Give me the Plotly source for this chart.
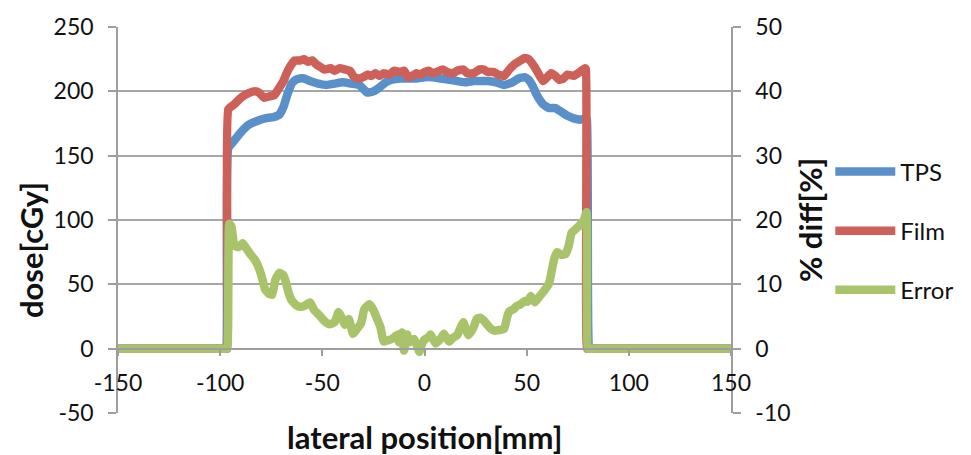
import plotly.graph_objects as go

# ---- data ----
tps_x = [-150, -97.5, -97, -96, -93, -90, -86, -82, -78, -74, -71, -69, -67, -65, -63, -61, -59, -56, -52, -48, -44,
         -40, -36, -32, -30, -28, -25, -22, -19, -16, -12, -8, -4, 0, 4, 8, 12, 16, 20, 24, 27, 31, 35, 39,
         43, 46, 49, 51, 53, 55, 58, 61, 64, 67, 70, 73, 76, 79, 79.5, 80.5, 81, 150]
tps_y = [0, 0, 0, 156, 162, 168, 174, 177, 179, 180, 182, 188, 198, 206, 209, 210, 210, 208, 206, 205, 206,
         207, 206, 205, 202, 199, 200, 203, 207, 209, 210, 210, 210, 211, 211, 210, 209, 208, 207, 208, 208,
         208, 207, 205, 207, 210, 211, 209, 204, 197, 190, 187, 187, 184, 181, 179, 178, 179, 178, 0, 0, 0]

film_x = [-150, -97, -96.5, -96, -93, -90.5, -88, -85.5, -83, -81, -78.5, -76, -73.5, -71, -69, -67.5, -65.5,
          -63.5, -61, -59, -57, -55, -53, -51, -49, -46, -44, -41.5, -39, -36.5, -34.5, -32, -30, -28, -26,
          -24, -22, -20, -17, -15, -12, -10, -8, -6, -4, -2, 0, 2, 4, 6, 9, 11, 14, 16, 19, 21, 24, 27, 29,
          31, 34, 36, 39, 41, 44, 47, 49, 51, 53, 55, 58, 60, 62, 64, 66, 68, 70, 73, 76, 78.5, 79, 79.5, 80,
          150]
film_y = [0, 0, 0, 186, 190, 194, 197, 199, 200, 199, 195, 196, 197, 203, 208, 214, 220,
          224, 224, 225, 223, 224, 221, 219, 217, 218, 216, 218, 217, 216, 211, 210, 211, 213, 212,
          214, 212, 214, 213, 216, 215, 216, 211, 212, 214, 213, 215, 216, 214, 215, 217, 215, 214, 216, 217,
          214, 214, 217, 217, 215, 215, 213, 212, 216, 221, 224, 226, 225, 221, 216, 208, 211, 214, 212, 209,
          210, 213, 212, 215, 218, 217, 0, 0, 0]

err_x = [-150, -97, -96.5, -95.5, -94.5, -93, -91, -89, -87, -85.5, -83, -81, -79.5, -78, -76, -74.5, -73, -71,
         -69, -68, -66.5, -65, -62.5, -60.5, -58.5, -56, -54, -51.5, -49, -46.5, -44, -42, -40, -39, -37,
         -35, -33, -31, -29.5, -27, -25, -23, -21.5, -20, -18, -16, -13, -12.5, -11, -10, -8.5, -7.5, -5,
         -2.5, -1.5, 0, 2, 3, 5.5, 8, 9.5, 12, 14, 16, 18, 19, 21.5, 24, 25.5, 27, 29, 31, 32.5, 34, 36.5,
         39, 40.5, 41.5, 43.5, 45, 47, 49, 50.5, 52, 54, 56, 57, 59, 61, 62.5, 63.5, 65, 67, 69, 70.5, 72,
         74, 76, 78, 79.3, 79.8, 80.3, 150]
err_y = [0, 0, 0, 19.4, 19.0, 16.0, 15.8, 16.4, 15.5, 14.8, 13.8, 12.5, 11.0, 9.2, 8.5, 8.4, 10.7, 11.8,
         11.4, 10.5, 8.7, 7.5, 6.7, 6.5, 6.7, 7.2, 6.0, 5.2, 4.3, 3.8, 4.1, 5.7, 4.5, 3.7, 4.6,
         2.3, 3.1, 4.0, 6.1, 6.9, 6.0, 4.5, 3.3, 1.1, 1.3, 1.5, 2.2, 1.0, 2.5, -0.3, 2.2, 1.0, 1.5,
         -0.5, 0.5, 1.4, 1.8, 2.2, 0.8, 1.6, 2.3, 1.1, 1.7, 2.1, 3.5, 4.1, 2.1, 3.3, 4.6, 4.8, 4.4, 3.6, 3.1,
         2.8, 2.9, 3.1, 5.0, 5.8, 6.1, 6.6, 6.9, 7.4, 7.3, 8.2, 7.2, 8.0, 8.4, 9.2, 10.2, 12.5, 14.0, 15.0,
         14.6, 14.7, 15.9, 18.0, 18.6, 19.2, 20.0, 21.2, 0, 0, 0]

dose_ticks = [-50, 0, 50, 100, 150, 200, 250]
diff_ticks = [-10, 0, 10, 20, 30, 40, 50]
x_ticks = [-150, -100, -50, 0, 50, 100, 150]

# ---- style ----
FONT = "Lato"
GRID = "#A6A6A6"
AXIS = "#9E9E9E"
TXT = "#111111"
LW = 8.5
SMOOTH = 0.4

fig = go.Figure()
fig.add_trace(go.Scatter(x=tps_x, y=tps_y, mode="lines", name="TPS",
                         line=dict(color="#5A90CA", width=LW, shape="spline", smoothing=SMOOTH),
                         legendgroup="a"))
fig.add_trace(go.Scatter(x=film_x, y=film_y, mode="lines", name="Film",
                         line=dict(color="#CD6058", width=LW, shape="spline", smoothing=SMOOTH),
                         legendgroup="b"))
fig.add_trace(go.Scatter(x=err_x, y=err_y, mode="lines", name="Error", yaxis="y2",
                         line=dict(color="#A8C36A", width=LW, shape="spline", smoothing=SMOOTH),
                         legendgroup="c"))

fig.update_layout(
    width=971, height=455,
    margin=dict(l=118, r=238, t=20, b=42),
    paper_bgcolor="white", plot_bgcolor="white",
    font=dict(family=FONT, size=23, color=TXT),
    showlegend=True,
    legend=dict(x=1.162, y=0.683, xanchor="left", yanchor="top",
                font=dict(family=FONT, size=24, color=TXT),
                tracegroupgap=25, bgcolor="rgba(0,0,0,0)", itemwidth=60),
    xaxis=dict(range=[-150, 150], tickvals=x_ticks, ticktext=[str(v) for v in x_ticks],
               showgrid=False, zeroline=False, showline=True, linecolor=AXIS, linewidth=1.5,
               ticks="outside", ticklen=7, tickcolor=AXIS, tickwidth=1.5,
               anchor="free", position=1/6, ticklabelstandoff=7,
               tickfont=dict(family=FONT, size=23, color=TXT)),
    yaxis=dict(range=[-50, 250], tickvals=dose_ticks, ticktext=[str(v) for v in dose_ticks],
               showgrid=True, gridcolor=GRID, gridwidth=1.5, zeroline=False,
               showline=True, linecolor=AXIS, linewidth=1.5,
               ticks="outside", ticklen=8, tickcolor=AXIS, tickwidth=1.5, ticklabelstandoff=10,
               tickfont=dict(family=FONT, size=23, color=TXT)),
    yaxis2=dict(range=[-10, 50], tickvals=diff_ticks, ticktext=[str(v) for v in diff_ticks],
                overlaying="y", side="right", showgrid=False, zeroline=False,
                showline=True, linecolor=AXIS, linewidth=1.5,
                ticks="outside", ticklen=8, tickcolor=AXIS, tickwidth=1.5, ticklabelstandoff=10,
                tickfont=dict(family=FONT, size=23, color=TXT)),
    annotations=[
        dict(text="<b>dose[cGy]</b>", xref="paper", yref="paper", x=-0.142, y=0.422,
             textangle=-90, showarrow=False, font=dict(family=FONT, size=31, color=TXT),
             xanchor="center", yanchor="middle"),
        dict(text="<b>% diff[%]</b>", xref="paper", yref="paper", x=1.128, y=0.501,
             textangle=-90, showarrow=False, font=dict(family=FONT, size=31, color=TXT),
             xanchor="center", yanchor="middle"),
        dict(text="<b>lateral position[mm]</b>", xref="paper", yref="paper", x=0.5, y=-0.061,
             showarrow=False, font=dict(family=FONT, size=31, color=TXT),
             xanchor="center", yanchor="middle"),
    ],
)

fig.write_html("out.html")
